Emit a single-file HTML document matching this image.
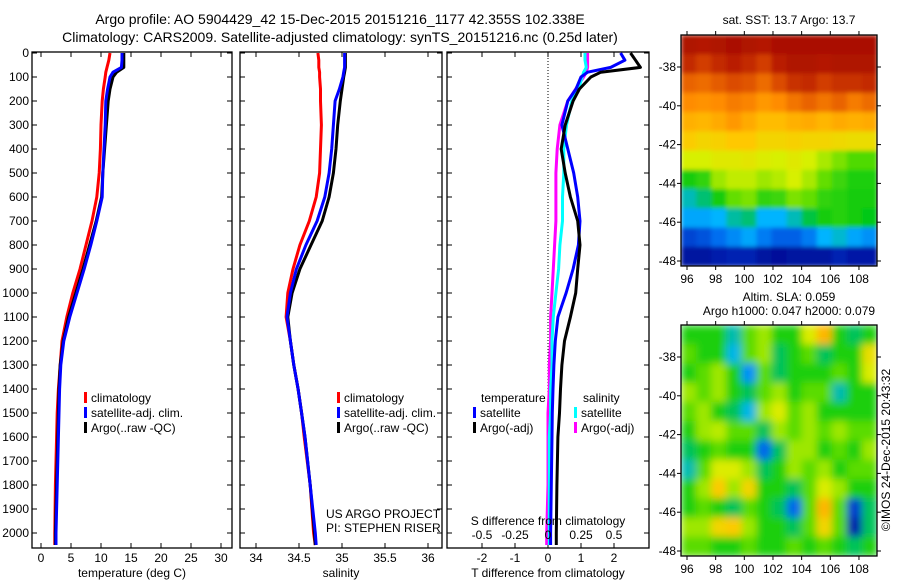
<!DOCTYPE html>
<html><head><meta charset="utf-8"><style>
html,body{margin:0;padding:0;background:#fff;}
svg{display:block;font-family:"Liberation Sans",sans-serif;}
</style></head><body>
<svg id="fig" width="900" height="580" viewBox="0 0 900 580">
<defs>
<clipPath id="c1"><rect x="32" y="52" width="200" height="496"/></clipPath>
<clipPath id="c2"><rect x="240" y="52" width="202" height="496"/></clipPath>
<clipPath id="c3"><rect x="447" y="52" width="202" height="496"/></clipPath>
<clipPath id="cm1"><rect x="681" y="35" width="196" height="231"/></clipPath>
<clipPath id="cm2"><rect x="681" y="325" width="196" height="231"/></clipPath>
<filter id="blur" x="-10%" y="-10%" width="120%" height="120%"><feGaussianBlur stdDeviation="4" edgeMode="duplicate"/></filter>
<filter id="blur2" x="-10%" y="-10%" width="120%" height="120%"><feGaussianBlur stdDeviation="2" edgeMode="duplicate"/></filter>
</defs>
<text x="340" y="24" font-size="14" text-anchor="middle">Argo profile: AO 5904429_42 15-Dec-2015 20151216_1177 42.355S 102.338E</text>
<text x="340" y="42" font-size="14" text-anchor="middle">Climatology: CARS2009. Satellite-adjusted climatology: synTS_20151216.nc (0.25d later)</text>
<g id="g1"></g>
<g id="g2"></g>
<g id="g3"></g>
<g id="m1"></g>
<g id="m2"></g>
<text transform="translate(890,450) rotate(-90)" font-size="12" text-anchor="middle">©IMOS 24-Dec-2015 20:43:32</text>
</svg>
<script>
const depths=[0,30,60,80,100,150,200,300,400,500,600,700,800,900,1000,1100,1200,1300,1400,1500,1600,1800,2000,2050];
const tClim=[11.5,11.3,11.0,10.8,10.7,10.4,10.2,10.0,9.9,9.7,9.3,8.5,7.5,6.5,5.3,4.3,3.5,3.2,2.9,2.7,2.6,2.4,2.3,2.3];
const tSat=[13.5,13.5,13.4,12.0,11.5,11.1,10.8,10.7,10.5,10.3,10.2,9.3,8.3,7.2,6.0,4.8,3.8,3.3,3.1,3.0,2.9,2.7,2.5,2.5];
const tArgo=[13.8,13.8,13.8,12.6,12.0,11.5,11.2,10.9,10.6,10.3,10.1,9.2,8.1,7.0,5.8,4.6,3.7,3.2,3.0,2.9,2.8,2.6,2.4,2.4];
const sClim=[34.72,34.73,34.73,34.74,34.74,34.75,34.75,34.76,34.75,34.74,34.70,34.62,34.51,34.43,34.37,34.35,34.40,34.44,34.49,34.53,34.56,34.63,34.67,34.69];
const sSat=[35.03,35.03,35.03,35.02,35.01,34.97,34.92,34.90,34.88,34.85,34.80,34.71,34.58,34.47,34.40,34.36,34.40,34.44,34.49,34.53,34.57,34.63,34.69,34.70];
const sArgo=[35.04,35.04,35.04,35.03,35.02,35.00,34.98,34.95,34.93,34.90,34.85,34.77,34.64,34.51,34.42,34.37,34.40,34.44,34.49,34.53,34.57,34.63,34.68,34.69];
const dTsat=[2.2,2.33,1.9,1.2,1.0,0.85,0.6,0.42,0.6,0.78,0.9,0.97,0.92,0.76,0.55,0.3,0.22,0.18,0.15,0.13,0.12,0.1,0.08,0.08];
const dTargo=[2.5,2.65,2.8,1.6,1.3,0.95,0.76,0.52,0.4,0.52,0.68,0.9,0.97,0.9,0.84,0.68,0.5,0.42,0.38,0.35,0.3,0.27,0.25,0.25];
const dSsat=[0.28,0.28,0.29,0.27,0.26,0.23,0.18,0.14,0.12,0.12,0.11,0.11,0.09,0.08,0.06,0.04,0.03,0.03,0.02,0.02,0.01,0.01,0.01,0.01];
const dSargo=[0.30,0.30,0.30,0.29,0.27,0.21,0.15,0.09,0.07,0.06,0.06,0.06,0.05,0.04,0.03,0.02,0.02,0.01,0.01,0.0,0.0,0.0,-0.01,-0.01];
const tTicks=[0,5,10,15,20,25,30];
const sTicks=[34,34.5,35,35.5,36];
const dTTicks=[-2,-1,0,1,2];
const dSTicks=[-0.5,-0.25,0,0.25,0.5];
const depthTicks=[0,100,200,300,400,500,600,700,800,900,1000,1100,1200,1300,1400,1500,1600,1700,1800,1900,2000];
const latTicks=[-38,-40,-42,-44,-46,-48];
const lonTicks=[96,98,100,102,104,106,108];
const sstGrid=[
[.97,.96,.97,.98,.97,.96,.98,.98,.98,.98,.98,.98,.98],
[.93,.9,.93,.95,.93,.9,.95,.97,.97,.96,.97,.97,.97],
[.85,.84,.86,.88,.87,.84,.88,.92,.93,.9,.92,.92,.93],
[.8,.79,.8,.82,.81,.78,.8,.83,.85,.83,.85,.82,.84],
[.74,.73,.75,.78,.75,.72,.72,.74,.75,.73,.75,.74,.75],
[.69,.67,.68,.7,.7,.67,.67,.68,.67,.67,.66,.65,.65],
[.6,.6,.62,.62,.63,.61,.6,.62,.6,.56,.52,.48,.48],
[.42,.45,.55,.58,.58,.55,.57,.6,.56,.5,.46,.43,.43],
[.33,.36,.42,.5,.52,.45,.46,.52,.5,.45,.44,.42,.42],
[.28,.28,.3,.34,.36,.3,.3,.33,.38,.42,.44,.42,.4],
[.14,.16,.2,.24,.28,.22,.18,.18,.22,.3,.32,.28,.25],
[.05,.05,.07,.08,.08,.05,.04,.05,.05,.05,.08,.06,.06]];
const slaGrid=[
[.5,.5,.5,.42,.55,.6,.5,.5,.65,.75,.5,.45,.5],
[.55,.5,.5,.4,.55,.6,.45,.5,.55,.45,.5,.5,.68],
[.5,.55,.6,.5,.35,.55,.45,.5,.5,.5,.55,.5,.65],
[.6,.55,.6,.5,.45,.55,.6,.5,.55,.55,.42,.5,.5],
[.55,.6,.5,.45,.4,.6,.65,.55,.6,.5,.5,.5,.5],
[.5,.6,.62,.55,.55,.45,.6,.55,.6,.55,.6,.55,.55],
[.45,.5,.55,.5,.5,.3,.45,.6,.6,.5,.55,.5,.6],
[.42,.55,.65,.65,.6,.45,.5,.6,.55,.6,.5,.55,.55],
[.5,.6,.72,.6,.7,.5,.5,.45,.55,.65,.6,.5,.5],
[.5,.55,.5,.45,.55,.5,.45,.3,.55,.75,.55,.25,.45],
[.6,.6,.7,.72,.6,.5,.5,.45,.55,.7,.55,.2,.45],
[.55,.55,.5,.5,.55,.5,.5,.55,.5,.55,.5,.45,.5]];

const NS='http://www.w3.org/2000/svg';
function mk(tag,attrs,parent,text){const e=document.createElementNS(NS,tag);for(const k in attrs)e.setAttribute(k,attrs[k]);if(text!==undefined)e.textContent=text;parent.appendChild(e);return e;}
const yD=d=>53+d*0.24;
const xT=t=>41+t*6;
const xS=s=>256+(s-34)*86;
const xDT=t=>548+t*33;
const xDS=s=>548+s*132;
const xLon=l=>687+(l-96)*14.33;
const yLat=l=>67+(-38-l)*19.4;

function frame(g,x0,x1){
  const r=mk('rect',{x:x0,y:52,width:x1-x0,height:496,fill:'none',stroke:'#000','stroke-width':1.3},g);
  
  
  depthTicks.forEach(d=>{
    mk('line',{x1:x0,x2:x0+5,y1:yD(d),y2:yD(d),stroke:'#000'},g);
    mk('line',{x1:x1,x2:x1-5,y1:yD(d),y2:yD(d),stroke:'#000'},g);
  });
}
function xticks(g,ticks,fx,lab){
  ticks.forEach(t=>{
    const x=fx(t);
    mk('line',{x1:x,x2:x,y1:52,y2:57,stroke:'#000'},g);
    mk('line',{x1:x,x2:x,y1:548,y2:543,stroke:'#000'},g);
    if(lab){const e=mk('text',{x:x,y:562,'font-size':12,'text-anchor':'middle'},g,String(t));
      
      }
  });
}
function line(g,xs,fx,color,clip,name,w){
  const pts=xs.map((v,i)=>fx(v).toFixed(1)+','+yD(depths[i]).toFixed(1)).join(' ');
  const p=mk('polyline',{points:pts,fill:'none',stroke:color,'stroke-width':w||3,'clip-path':'url(#'+clip+')','stroke-linejoin':'round'},g);
  
  
}
function legend(g,x,y,items){
  items.forEach((it,i)=>{
    mk('rect',{x:x,y:y+i*15-10,width:3,height:11,fill:it[0]},g);
    const e=mk('text',{x:x+7,y:y+i*15,'font-size':12},g,it[1]);
    
    
  });
}
const g1=document.getElementById('g1');
frame(g1,32,232);
depthTicks.forEach(d=>{const e=mk('text',{x:29,y:yD(d)+4,'font-size':12,'text-anchor':'end'},g1,String(d));
  
  });
xticks(g1,tTicks,xT,true);
line(g1,tClim,xT,'#f00','c1','temp-climatology-line');
line(g1,tArgo,xT,'#000','c1','temp-argo-line');
line(g1,tSat,xT,'#00f','c1','temp-satellite-line');
legend(g1,84,402,[['#f00','climatology'],['#00f','satellite-adj. clim.'],['#000','Argo(..raw -QC)']]);
let t=mk('text',{x:132,y:577,'font-size':12,'text-anchor':'middle'},g1,'temperature (deg C)');

const g2=document.getElementById('g2');
frame(g2,240,442);
xticks(g2,sTicks,xS,true);
line(g2,sClim,xS,'#f00','c2','sal-climatology-line');
line(g2,sArgo,xS,'#000','c2','sal-argo-line');
line(g2,sSat,xS,'#00f','c2','sal-satellite-line');
legend(g2,337,402,[['#f00','climatology'],['#00f','satellite-adj. clim.'],['#000','Argo(..raw -QC)']]);
t=mk('text',{x:341,y:577,'font-size':12,'text-anchor':'middle'},g2,'salinity');

t=mk('text',{x:326,y:518,'font-size':12},g2,'US ARGO PROJECT');

t=mk('text',{x:326,y:532,'font-size':12},g2,'PI: STEPHEN RISER');

const g3=document.getElementById('g3');
frame(g3,447,649);
xticks(g3,dTTicks,xDT,true);
mk('line',{x1:548,x2:548,y1:52,y2:548,stroke:'#000','stroke-dasharray':'1,2'},g3);
line(g3,dSargo,xDS,'#f0f','c3','sal-diff-argo-line');
line(g3,dSsat,xDS,'#0ff','c3','sal-diff-satellite-line');
line(g3,dTsat,xDT,'#00f','c3','temp-diff-satellite-line');
line(g3,dTargo,xDT,'#000','c3','temp-diff-argo-line');
t=mk('text',{x:481,y:402,'font-size':12},g3,'temperature');

t=mk('text',{x:583,y:402,'font-size':12},g3,'salinity');

legend(g3,473,417,[['#00f','satellite'],['#000','Argo(-adj)']]);
legend(g3,574,417,[['#0ff','satellite'],['#f0f','Argo(-adj)']]);
t=mk('text',{x:548,y:525,'font-size':12,'text-anchor':'middle'},g3,'S difference from climatology');

dSTicks.forEach(s=>{const e=mk('text',{x:xDS(s),y:539,'font-size':12,'text-anchor':'middle'},g3,String(s));
  });
t=mk('text',{x:548,y:577,'font-size':12,'text-anchor':'middle'},g3,'T difference from climatology');


// custom colour scale
const stops=[[0,0,130],[0,40,190],[0,110,240],[0,180,255],[0,200,20],[100,222,0],[215,240,0],[255,200,0],[255,140,0],[210,60,0],[160,0,0]];
function cmap(v){v=Math.max(0,Math.min(0.9999,v))*10;const i=Math.floor(v),f=v-i;
  const a=stops[i],b=stops[i+1];
  return 'rgb('+a.map((c,k)=>Math.round(c+(b[k]-c)*f)).join(',')+')';}
const sstScale=v=>v;
const slaScale=v=>(v-0.5)*1.2+0.43;
function map(gid,grid,top,clip,filt,scale,titles){
  const g=document.getElementById(gid);
  const off=top-35;
  const rows=grid.length,cols=grid[0].length,w=196/cols,h=231/rows;
  const cg=mk('g',{'clip-path':'url(#'+clip+')'},g);
  const ig=mk('g',{filter:'url(#'+filt+')'},cg);
  grid.forEach((row,i)=>row.forEach((v,j)=>{
    const c=mk('rect',{x:(681+j*w).toFixed(2),y:(top+i*h).toFixed(2),width:(w+0.6).toFixed(2),height:(h+0.6).toFixed(2),fill:cmap(scale(v))},ig);
    
    
  }));
  mk('rect',{x:681,y:top,width:196,height:231,fill:'none',stroke:'#000','stroke-width':1.3},g);
  latTicks.forEach(l=>{const y=yLat(l)+off;
    mk('line',{x1:681,x2:677,y1:y,y2:y,stroke:'#000'},g);
    mk('line',{x1:877,x2:881,y1:y,y2:y,stroke:'#000'},g);
    const e=mk('text',{x:676,y:y+4,'font-size':12,'text-anchor':'end'},g,String(l));
    });
  lonTicks.forEach(l=>{const x=xLon(l);
    mk('line',{x1:x,x2:x,y1:top,y2:top-4,stroke:'#000'},g);
    mk('line',{x1:x,x2:x,y1:top+231,y2:top+235,stroke:'#000'},g);
    const e=mk('text',{x:x,y:top+248,'font-size':12,'text-anchor':'middle'},g,String(l));
    });
  titles.forEach((s,i)=>{const e=mk('text',{x:789,y:titles.length===1?top-11:top-24+i*14,'font-size':12,'text-anchor':'middle'},g,s);
    });
}
map('m1',sstGrid,35,'cm1','blur2',sstScale,['sat. SST: 13.7 Argo: 13.7']);
map('m2',slaGrid,325,'cm2','blur',slaScale,['Altim. SLA: 0.059','Argo h1000: 0.047 h2000: 0.079']);
</script>
</body></html>
